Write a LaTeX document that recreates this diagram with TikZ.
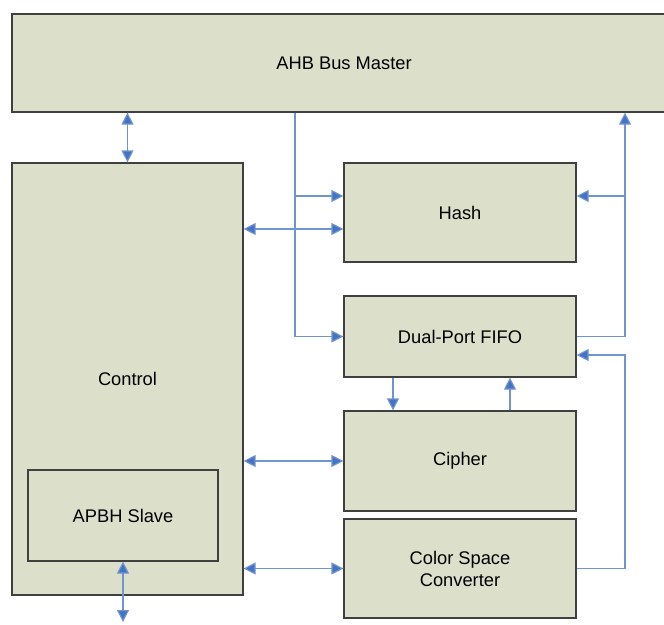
\documentclass[tikz,border=0pt]{standalone}
\usepackage{fontspec}
\setmainfont{Liberation Sans}
\usepackage{tikz}
\usetikzlibrary{positioning, arrows.meta, shapes.geometric}
\definecolor{boxfill}{RGB}{220,224,203}
\definecolor{linkblue}{RGB}{112,148,206}
\definecolor{tipblue}{RGB}{68,114,196}

\begin{document}
\begin{tikzpicture}[x=1pt, y=-1pt, font=\fontsize{18.3}{22}\selectfont]
    \tikzstyle{block} = [rectangle, draw=black!75, line width=1.2pt, fill=boxfill, text centered, inner sep=0pt]
    \tikzstyle{link} = [draw=linkblue, line width=1.2pt]
    \tikzstyle{arrow} = [link, -{Triangle[length=12pt, width=12pt, fill=tipblue]}]
    \tikzstyle{both} = [link, {Triangle[length=12pt, width=12pt, fill=tipblue]}-{Triangle[length=12pt, width=12pt, fill=tipblue]}]

    \useasboundingbox (0,0) rectangle (664,624);

    \node [block, minimum width=664pt, minimum height=98pt] (ahb) at (344,63) {AHB Bus Master};
    \node [block, minimum width=231pt, minimum height=432pt] (ctrl) at (127.5,379) {Control};
    \node [block, minimum width=190pt, minimum height=91pt] (apbh) at (123,515.5) {APBH Slave};

    \node [block, minimum width=232pt, minimum height=99pt] (hash) at (460,212.5) {Hash};
    \node [block, minimum width=232pt, minimum height=81pt] (fifo) at (460,336.5) {Dual-Port FIFO};
    \node [block, minimum width=232pt, minimum height=100pt] (cipher) at (460,461) {Cipher};
    \node [block, minimum width=232pt, minimum height=99pt, align=center] (csc) at (460,568.5) {Color Space\\Converter};

    % bus lines left and right of the engines
    \coordinate (trunk) at (295,0);
    \coordinate (ret) at (625,0);
    \coordinate (hashin) at ([yshift=16.5pt]hash.west);
    \coordinate (fifoin) at ([yshift=-18.5pt]fifo.east);
    \coordinate (apbhout) at (123,624);

    \draw [both] (ctrl.north |- ahb.south) -- (ctrl.north);
    \draw [arrow] (trunk |- ahb.south) |- (fifo.west);
    \draw [arrow] (trunk |- hashin) -- (hashin);
    \draw [both] (ctrl.east |- hash.west) ++(0,16.5) coordinate (c1) -- (hash.west |- c1);

    \draw [arrow] (fifo.east) -| (ret |- ahb.south);
    \draw [arrow] (ret |- hashin) -- (hash.east |- hashin);

    \draw [arrow] (fifo.south -| 393,0) -- (cipher.north -| 393,0);
    \draw [arrow] (cipher.north -| 510,0) -- (fifo.south -| 510,0);

    \draw [both] (ctrl.east |- cipher.west) -- (cipher.west);
    \draw [both] (ctrl.east |- csc.west) -- (csc.west);
    \draw [arrow] (csc.east) -| (ret |- fifoin) -- (fifoin);

    \draw [both] (apbh.south) -- ([yshift=2pt]apbhout);
\end{tikzpicture}
\end{document}
